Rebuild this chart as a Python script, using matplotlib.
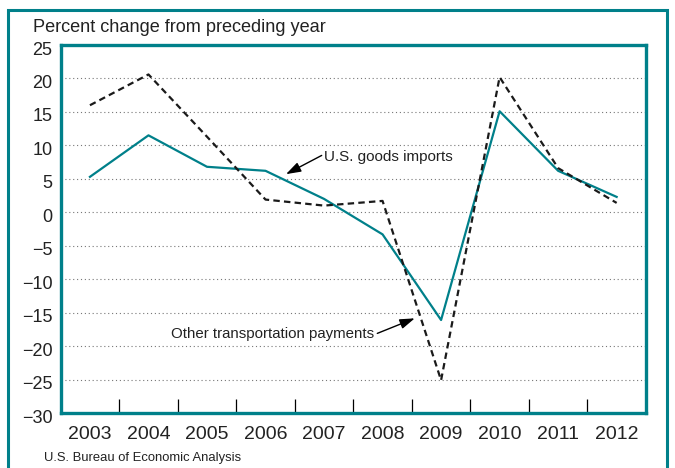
import numpy as np
from matplotlib import pyplot as plt
from matplotlib.patches import Rectangle
from matplotlib.transforms import ScaledTranslation

years = ["2003", "2004", "2005", "2006", "2007", "2008", "2009", "2010", "2011", "2012"]
goods_imports = [5.3, 11.5, 6.8, 6.2, 2.0, -3.3, -16.1, 15.1, 6.2, 2.3]
other_transport = [16.0, 20.6, 11.3, 1.9, 1.0, 1.7, -25.1, 20.2, 6.6, 1.4]

teal = "#00808a"
ink = "#222222"
plt.rcParams["font.family"] = ["Liberation Sans", "DejaVu Sans"]

fig = plt.figure(figsize=(6.75, 4.68), dpi=100)
ax = fig.add_axes([0.0899, 0.1175, 0.867, 0.7863])

x = np.arange(len(years)) + 0.5
ax.plot(x, goods_imports, color=teal, lw=1.6, zorder=3)
ax.plot(x, other_transport, color="#1a1a1a", lw=1.6, dashes=(2.9, 1.9), zorder=3)

ax.set_xlim(0, len(years))
ax.set_ylim(-30, 25)
ax.set_yticks(np.arange(-30, 26, 5))
ax.tick_params(axis="y", length=0, pad=6, labelsize=13, labelcolor=ink)
shift = ScaledTranslation(0, -3 / 100, fig.dpi_scale_trans)
for lab in ax.get_yticklabels():
    lab.set_transform(lab.get_transform() + shift)
ax.set_xticks(np.arange(1, len(years)))
ax.set_xticklabels([])
ax.tick_params(axis="x", which="major", direction="in", length=10, width=0.9, color="black")
ax.set_xticks(x, minor=True)
ax.set_xticklabels(years, minor=True)
ax.tick_params(axis="x", which="minor", length=0, pad=9, labelsize=14, labelcolor=ink)
ax.grid(axis="y", linestyle=(0, (1, 2.5)), color="#777777", lw=0.8)
for s in ax.spines.values():
    s.set_color(teal)
    s.set_linewidth(2.4)

arrow = dict(arrowstyle="-|>,head_length=0.9,head_width=0.3", color="black", lw=1,
             shrinkA=0, shrinkB=0)
ax.annotate("", xy=(3.85, 5.7), xytext=(4.46, 8.5), arrowprops=arrow)
ax.text(4.5, 8.3, "U.S. goods imports", fontsize=11, ha="left", va="center", color=ink)
ax.annotate("", xy=(6.05, -15.85), xytext=(5.41, -18.1), arrowprops=arrow)
ax.text(5.35, -18.2, "Other transportation payments", fontsize=10.8,
        ha="right", va="center", color=ink)

fig.text(0.049, 0.942, "Percent change from preceding year", fontsize=13.1,
         ha="left", va="center", color=ink)
fig.text(0.065, 0.021, "U.S. Bureau of Economic Analysis", fontsize=9.4,
         ha="left", va="center", color=ink)

fig.patches.append(Rectangle((0.012, -0.1), 0.976, 1.078, transform=fig.transFigure,
                             fill=False, edgecolor=teal, lw=2.2))

fig.savefig("out.png", dpi=100)
